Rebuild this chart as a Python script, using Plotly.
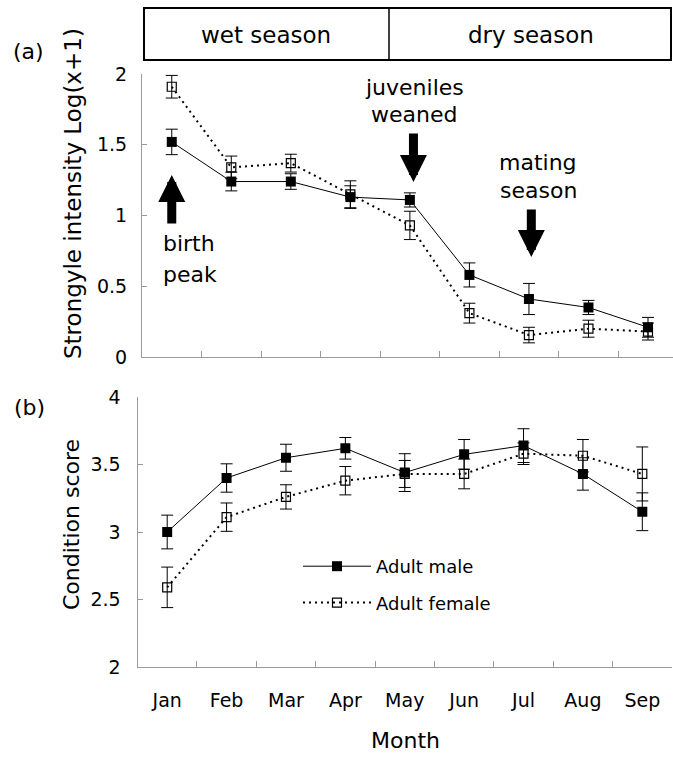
import plotly.graph_objects as go

# ---------------- data ----------------
months = ['Jan', 'Feb', 'Mar', 'Apr', 'May', 'Jun', 'Jul', 'Aug', 'Sep']

strongyle_male = [1.52, 1.24, 1.24, 1.13, 1.11, 0.58, 0.41, 0.35, 0.21]
strongyle_male_se = [0.09, 0.066, 0.055, 0.08, 0.05, 0.085, 0.11, 0.05, 0.07]
strongyle_female = [1.91, 1.34, 1.37, 1.15, 0.93, 0.31, 0.155, 0.20, 0.18]
strongyle_female_se = [0.08, 0.08, 0.063, 0.095, 0.10, 0.07, 0.055, 0.06, 0.06]

condition_male = [3.00, 3.40, 3.55, 3.62, 3.44, 3.575, 3.64, 3.43, 3.15]
condition_male_se = [0.125, 0.105, 0.10, 0.08, 0.14, 0.11, 0.125, 0.12, 0.14]
condition_female = [2.59, 3.11, 3.26, 3.38, 3.43, 3.43, 3.58, 3.565, 3.43]
condition_female_se = [0.15, 0.105, 0.09, 0.105, 0.10, 0.11, 0.08, 0.12, 0.20]

y_ticks_a = [0, 0.5, 1, 1.5, 2]
y_ticks_b = [2, 2.5, 3, 3.5, 4]

# ---------------- layout helpers ----------------
W, H = 673, 757
FONT = 'DejaVu Sans'
GREY = '#9a9a9a'


def px(x):
    return x / W


def py(y):
    return 1 - y / H


def err(arr):
    return dict(type='data', array=arr, color='black', thickness=1, width=6)


male_line = dict(color='black', width=1)
female_line = dict(color='black', width=2, dash='2px,4px')
male_marker = dict(symbol='square', size=10, color='black')
female_marker = dict(symbol='square-open', size=9, color='black', line=dict(width=1.2, color='black'))

fig = go.Figure()

# panel (a)
fig.add_trace(go.Scatter(x=months, y=strongyle_female, error_y=err(strongyle_female_se),
                         mode='lines+markers', line=female_line, marker=female_marker,
                         xaxis='x', yaxis='y', showlegend=False, name='Adult female'))
fig.add_trace(go.Scatter(x=months, y=strongyle_male, error_y=err(strongyle_male_se),
                         mode='lines+markers', line=male_line, marker=male_marker,
                         xaxis='x', yaxis='y', showlegend=False, name='Adult male'))

# panel (b)
fig.add_trace(go.Scatter(x=months, y=condition_female, error_y=err(condition_female_se),
                         mode='lines+markers', line=female_line, marker=female_marker,
                         xaxis='x2', yaxis='y2', name='Adult female', legendgroup='f',
                         legendrank=2))
fig.add_trace(go.Scatter(x=months, y=condition_male, error_y=err(condition_male_se),
                         mode='lines+markers', line=male_line, marker=male_marker,
                         xaxis='x2', yaxis='y2', name='Adult male', legendgroup='m',
                         legendrank=1))

axis_common = dict(showline=True, linecolor=GREY, linewidth=1, ticks='inside', tickcolor=GREY,
                   ticklen=5, showgrid=False, zeroline=False,
                   tickfont=dict(family=FONT, size=19, color='black'))

fig.update_layout(
    width=W, height=H,
    margin=dict(l=0, r=0, t=0, b=0, autoexpand=False),
    paper_bgcolor='white', plot_bgcolor='white',
    font=dict(family=FONT, color='black'),
    xaxis=dict(axis_common, domain=[px(142), 1.0], range=[-0.5, 8.42], type='category',
               categoryarray=months, tickson='boundaries', showticklabels=False,
               anchor='y', ticklen=6),
    yaxis=dict(axis_common, domain=[py(357), py(74)], range=[0, 2], tickvals=y_ticks_a,
               ticktext=[str(v) for v in y_ticks_a], anchor='x', ticklabelstandoff=10),
    xaxis2=dict(axis_common, domain=[px(137.5), px(672)], range=[-0.5, 8.5], type='category',
                categoryarray=months, tickson='boundaries', anchor='y2', ticklen=6,
                ticklabelstandoff=16),
    yaxis2=dict(axis_common, domain=[py(667), py(397)], range=[2, 4], tickvals=y_ticks_b,
                ticktext=[str(v) for v in y_ticks_b], anchor='x2', ticklabelstandoff=12),
    legend=dict(x=px(298), y=py(548), xanchor='left', yanchor='top',
                font=dict(family=FONT, size=18, color='black'),
                bgcolor='rgba(0,0,0,0)', itemwidth=68, tracegroupgap=10,
                traceorder='grouped'),
    showlegend=True,
)

# season box
fig.add_shape(type='rect', xref='paper', yref='paper', x0=px(144), x1=px(671), y0=py(60), y1=py(8),
              line=dict(color='black', width=2))
fig.add_shape(type='line', xref='paper', yref='paper', x0=px(389), x1=px(389), y0=py(60), y1=py(8),
              line=dict(color='black', width=1.5))

ann = []


def txt(text, x, y, size, xanchor='center', angle=0):
    ann.append(dict(text=text, x=px(x), y=py(y), xref='paper', yref='paper', showarrow=False,
                    xanchor=xanchor, yanchor='middle', textangle=angle,
                    font=dict(family=FONT, size=size, color='black')))


txt('wet season', 266, 35, 23)
txt('dry season', 531, 35, 23)
txt('(a)', 28, 52, 22)
txt('(b)', 29, 407, 22)
txt('Strongyle intensity Log(x+1)', 73, 194, 23, angle=-90)
txt('Condition score', 71, 525, 22, angle=-90)
txt('Month', 405, 740, 22)
txt('birth', 161, 244, 22, xanchor='left')
txt('peak', 161, 275, 22, xanchor='left')
txt('juveniles', 414, 88, 22)
txt('weaned', 414, 115, 22)
txt('mating', 538, 163, 22)
txt('season', 538, 190, 22)


def arrow(x, y, ay):
    ann.append(dict(text='', x=x, y=y, xref='x', yref='y', ax=0, ay=ay, axref='pixel', ayref='pixel',
                    showarrow=True, arrowhead=2, arrowwidth=9, arrowsize=0.6, arrowcolor='black'))


arrow(0, 1.286, 50)      # birth peak
arrow(4.06, 1.237, -50)  # juveniles weaned
arrow(6.04, 0.707, -49)  # mating season

fig.update_layout(annotations=ann)

fig.write_html('out.html',
               config={'displayModeBar': False, 'staticPlot': True},
               post_script="document.body.style.margin='0';document.body.style.padding='0';"
                           "document.body.style.overflow='hidden';")
